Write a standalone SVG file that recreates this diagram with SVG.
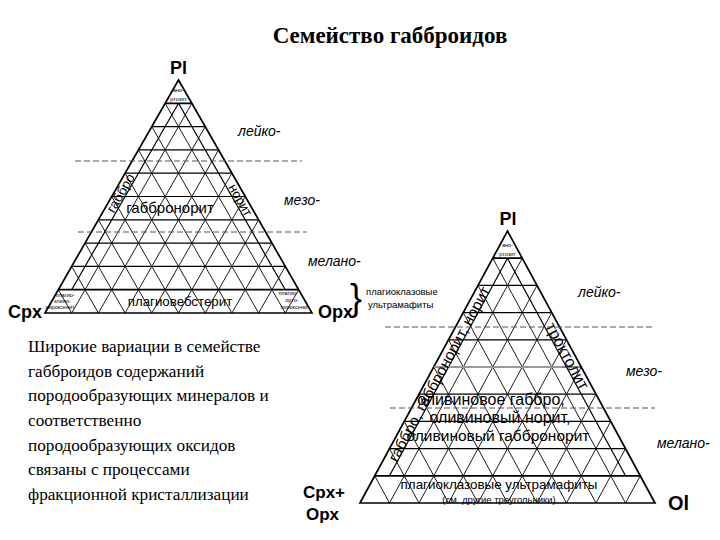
<svg xmlns="http://www.w3.org/2000/svg" width="720" height="540" viewBox="0 0 720 540">
<style>
.g{fill:none;stroke:#000;stroke-width:0.9;vector-effect:non-scaling-stroke}
.h{fill:none;stroke:#000;stroke-width:1.2;vector-effect:non-scaling-stroke}
.b{fill:none;stroke:#000;stroke-width:1.7;vector-effect:non-scaling-stroke}
.d{fill:none;stroke:#555;stroke-width:1;stroke-dasharray:6 3}
text{font-family:"Liberation Sans",Arial,sans-serif;fill:#000}
.ser{font-family:"Liberation Serif","Times New Roman",serif}
.ap{font-size:18px;font-weight:bold}
.it{font-style:italic;font-size:14px}
.tiny{font-size:5.5px;text-anchor:middle}
.mid{text-anchor:middle}
</style>
<defs>
<g id="grid">
<path class="g" d="M1 0L5.5 9M2 0L6 8M3 0L6.5 7M4 0L7 6M5 0L7.5 5M6 0L8 4M7 0L8.5 3M8 0L9 2M9 0L9.5 1M1 0L0.5 1M2 0L1 2M3 0L1.5 3M4 0L2 4M5 0L2.5 5M6 0L3 6M7 0L3.5 7M8 0L4 8M9 0L4.5 9"/>
<path class="h" d="M1 2H9M1.5 3H8.5M2 4H8M2.5 5H7.5M3 6H7M3.5 7H6.5M4 8H6M1 1L5 9M9 1L5 9"/>
<path class="b" d="M0.5 1H9.5M4.5 9H5.5M0 0H10L5 10Z"/>
</g>
</defs>

<text class="ser" x="390" y="43" font-size="23" font-weight="bold" text-anchor="middle">Семейство габброидов</text>

<g id="triangle-left">
<use href="#grid" transform="matrix(26.7 0 0 -23.3 45 313)"/>
<text class="ap mid" x="178.5" y="74">Pl</text>
<text class="ap" x="8" y="318">Cpx</text>
<text class="ap" x="318" y="318">Opx</text>
<text class="tiny" x="178.5" y="92">ано-</text>
<text class="tiny" x="178.5" y="100.5">ртозит</text>
<text x="170" y="213" font-size="15" class="mid">габбронорит</text>
<text x="180" y="305.5" font-size="13.3" class="mid">плагиовебстерит</text>
<text transform="translate(120.5 193) rotate(-60.2)" font-size="13.5" class="mid" dy="0.35em">габбро</text>
<text transform="translate(240.6 200) rotate(60.2)" font-size="13" class="mid" dy="0.35em">норит</text>
<text class="tiny" x="65" y="297">плагио-</text>
<text class="tiny" x="62.5" y="303">клино-</text>
<text class="tiny" x="60" y="309">пироксенит</text>
<text class="tiny" x="288" y="295">плагио-</text>
<text class="tiny" x="292" y="302">орто-</text>
<text class="tiny" x="295" y="309">пироксенит</text>
</g>

<g id="scale-left">
<path class="d" d="M75 161H302M78 232H307"/>
<text class="it" x="238" y="136">лейко-</text>
<text class="it" x="284" y="205">мезо-</text>
<text class="it" x="308" y="266">мелано-</text>
</g>

<g id="brace-note">
<text x="350" y="310" font-size="36">}</text>
<text x="366" y="295" font-size="9.5" fill="#222">плагиоклазовые</text>
<text x="368" y="308" font-size="9.5" fill="#222">ультрамафиты</text>
</g>

<g id="triangle-right">
<use href="#grid" transform="matrix(29.5 0 0 -27.2 360 503)"/>
<path d="M434 367H562" stroke="#999" stroke-width="2"/>
<text class="ap mid" x="508" y="225">Pl</text>
<text class="tiny" x="507.5" y="247" font-size="6.5">ано-</text>
<text class="tiny" x="507.5" y="256" font-size="6.5">ртозит</text>
<text x="668" y="510" font-size="20" font-weight="bold">Ol</text>
<text x="303" y="498" font-size="17" font-weight="bold">Cpx+</text>
<text x="306" y="520" font-size="17" font-weight="bold">Opx</text>
<text transform="translate(439 374) rotate(-61.5)" font-size="15.5" class="mid" dy="0.35em">габбро, габбронорит, норит</text>
<text transform="translate(567.5 356) rotate(61.5)" font-size="16" class="mid" dy="0.35em">троктолит</text>
<text x="491" y="405" font-size="16" class="mid">оливиновое габбро,</text>
<text x="500" y="423" font-size="16" class="mid">оливиновый норит,</text>
<text x="498" y="441" font-size="15.5" class="mid">оливиновый габбронорит</text>
<text x="499" y="489" font-size="13.4" class="mid">плагиоклазовые ультрамафиты</text>
<text x="499" y="502.5" font-size="9.5" class="mid">(см. другие треугольники)</text>
</g>

<g id="scale-right">
<path class="d" d="M385 327H655M390 408H655"/>
<text class="it" x="578" y="297" font-size="17">лейко-</text>
<text class="it" x="626" y="376" font-size="17">мезо-</text>
<text class="it" x="657" y="448" font-size="17">мелано-</text>
</g>

<g id="note" class="ser" font-size="17.2">
<text class="ser" x="28" y="352">Широкие вариации в семействе</text>
<text class="ser" x="28" y="376.7">габброидов содержаний</text>
<text class="ser" x="28" y="401.3">породообразующих минералов и</text>
<text class="ser" x="28" y="426">соответственно</text>
<text class="ser" x="28" y="450.7">породообразующих оксидов</text>
<text class="ser" x="28" y="475.3">связаны с процессами</text>
<text class="ser" x="28" y="500">фракционной кристаллизации</text>
</g>
</svg>
